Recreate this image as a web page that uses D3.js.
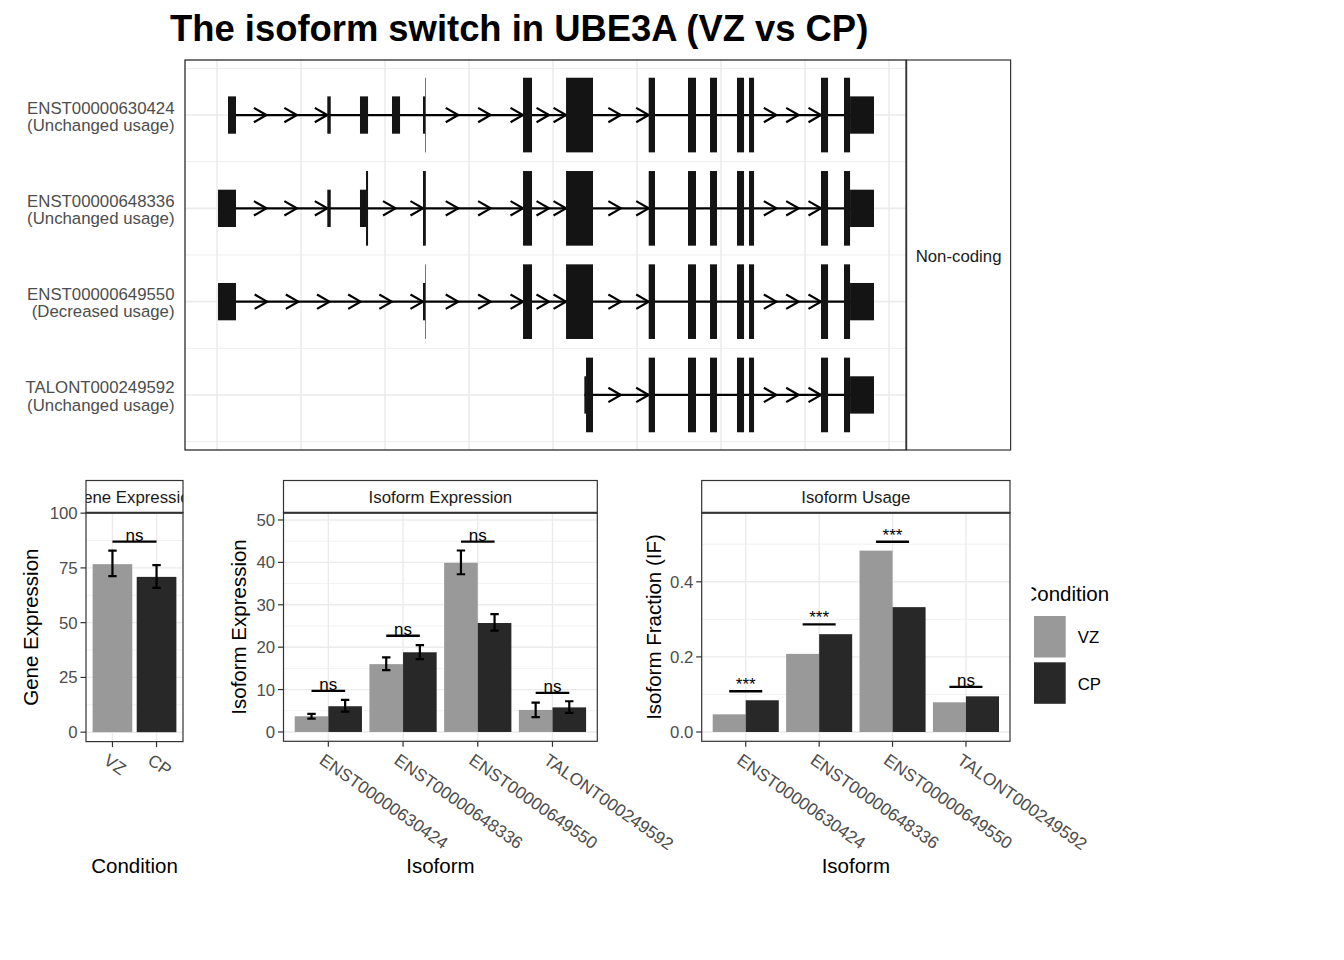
<!DOCTYPE html>
<html>
<head>
<meta charset="utf-8">
<script src="https://cdn.jsdelivr.net/npm/d3@7"></script>
<style>
  body { margin: 0; background: #fff; }
  svg { display: block; font-family: "Liberation Sans", Arial, Helvetica, sans-serif; }
</style>
</head>
<body>
<svg id="chart" width="1344" height="960"></svg>
<script>
// ---- data ----
const chartTitle = 'The isoform switch in UBE3A (VZ vs CP)'
const isoforms = ['ENST00000630424', 'ENST00000648336', 'ENST00000649550', 'TALONT000249592']
const usageLabels = ['(Unchanged usage)', '(Unchanged usage)', '(Decreased usage)', '(Unchanged usage)']
const stripLabel = 'Non-coding'

// exon coordinates (rescaled gene coordinates)
const exons630424 = [[13.1, 22.6], [131.3, 135.4], [170.2, 179.8], [208.3, 217.9], [245.2, 248.6], [364.3, 375], [415.5, 447.6], [513.9, 521.4], [560.7, 570.2], [586.9, 595.2], [619, 627.4], [633.3, 639.3], [719, 727.4], [746.4, 782.1]]
const exons648336 = [[1.2, 22.6], [131.3, 135.4], [170.2, 179.8], [245.2, 248.6], [364.3, 375], [415.5, 447.6], [513.9, 521.4], [560.7, 570.2], [586.9, 595.2], [619, 627.4], [633.3, 639.3], [719, 727.4], [746.4, 782.1]]
const exons649550 = [[1.2, 22.6], [245.2, 248.6], [364.3, 375], [415.5, 447.6], [513.9, 521.4], [560.7, 570.2], [586.9, 595.2], [619, 627.4], [633.3, 639.3], [719, 727.4], [746.4, 782.1]]
const exons249592 = [[437.3, 447.6], [513.9, 521.4], [560.7, 570.2], [586.9, 595.2], [619, 627.4], [633.3, 639.3], [719, 727.4], [746.4, 782.1]]
const isoformExons = [exons630424, exons648336, exons649550, exons249592]
const isoformCds = [[247.9, 753.6], [177.4, 753.6], [247.9, 753.6], [439.3, 753.6]]
// number of direction arrows drawn in each intron
const intronArrows = [
  [3, 0, 0, 0, 3, 2, 2, 0, 0, 0, 0, 3, 0],
  [3, 0, 2, 3, 2, 2, 0, 0, 0, 0, 3, 0],
  [6, 3, 2, 2, 0, 0, 0, 0, 3, 0],
  [2, 0, 0, 0, 0, 3, 0]
]

const conditions = ['VZ', 'CP']
const condColors = ['#999999', '#282828']

const geneExpr = [76.7, 70.9]
const geneExprLo = [71.2, 65.9]
const geneExprHi = [82.9, 76.3]
const geneSig = ['ns']
const geneSigY = [87]

const isoExprVZ = [3.7, 16.0, 39.9, 5.2]
const isoExprVZLo = [3.15, 14.6, 37.2, 3.5]
const isoExprVZHi = [4.25, 17.6, 42.8, 6.9]
const isoExprCP = [6.07, 18.8, 25.7, 5.8]
const isoExprCPLo = [4.8, 17.2, 23.9, 4.5]
const isoExprCPHi = [7.56, 20.5, 27.8, 7.25]
const exprSig = ['ns', 'ns', 'ns', 'ns']
const exprSigY = [9.7, 22.7, 44.9, 9.2]

const usageVZ = [0.047, 0.208, 0.483, 0.079]
const usageCP = [0.0845, 0.2605, 0.3325, 0.095]
const usageSig = ['***', '***', '***', 'ns']
const usageSigY = [0.1085, 0.2864, 0.5067, 0.12]

// ---- drawing ----
const svg = d3.select('#chart')
const grid = '#ebebeb'
const axisGrey = '#4d4d4d'
const border = '#333333'

svg.append('rect').attr('width', 1344).attr('height', 960).attr('fill', '#fff')

svg.append('text')
  .attr('x', 170).attr('y', 40.7)
  .attr('font-size', 36.4).attr('font-weight', 'bold')
  .attr('fill', '#000')
  .text(chartTitle)

// ---------- transcript structure panel ----------
const tp = { l: 185, r: 906, t: 60, b: 450 }
const xGene = d3.scaleLinear().domain([-38.1, 820.2]).range([tp.l, tp.r])
const yRow = d3.scaleLinear().domain([0.41, 4.59]).range([tp.b, tp.t])
const rowOf = i => isoforms.length - i

const topG = svg.append('g')
topG.append('rect')
  .attr('x', tp.l).attr('y', tp.t).attr('width', tp.r - tp.l).attr('height', tp.b - tp.t)
  .attr('fill', '#fff')

topG.selectAll('line.ymin')
  .data([0.5, 1.5, 2.5, 3.5, 4.5])
  .enter().append('line')
  .attr('x1', tp.l).attr('x2', tp.r)
  .attr('y1', d => yRow(d)).attr('y2', d => yRow(d))
  .attr('stroke', grid).attr('stroke-width', 0.9)

topG.selectAll('line.xgrid')
  .data(d3.range(0, 801, 100))
  .enter().append('line')
  .attr('x1', d => xGene(d)).attr('x2', d => xGene(d))
  .attr('y1', tp.t).attr('y2', tp.b)
  .attr('stroke', grid).attr('stroke-width', 1.5)

topG.selectAll('line.ymaj')
  .data([1, 2, 3, 4])
  .enter().append('line')
  .attr('x1', tp.l).attr('x2', tp.r)
  .attr('y1', d => yRow(d)).attr('y2', d => yRow(d))
  .attr('stroke', grid).attr('stroke-width', 1.6)

isoforms.forEach((iso, i) => {
  const row = rowOf(i)
  const y = yRow(row)
  const ex = isoformExons[i]
  const cds = isoformCds[i]
  const arrows = intronArrows[i]

  topG.append('line')
    .attr('x1', xGene(ex[0][0])).attr('x2', xGene(ex[ex.length - 1][1]))
    .attr('y1', y).attr('y2', y)
    .attr('stroke', '#000').attr('stroke-width', 2.2)

  for (let j = 0; j < ex.length - 1; j++) {
    const a = ex[j][1], b = ex[j + 1][0], n = arrows[j]
    for (let k = 1; k <= n; k++) {
      const tx = xGene(a + (b - a) * k / n)
      topG.append('path')
        .attr('d', `M${tx - 12.5},${y - 7.2}L${tx},${y}L${tx - 12.5},${y + 7.2}`)
        .attr('fill', 'none').attr('stroke', '#000').attr('stroke-width', 2.2)
    }
  }

  ex.forEach(([s, e]) => {
    const pieces = []
    if (s < cds[0]) pieces.push([s, Math.min(e, cds[0]), 0.2])
    if (e > cds[0] && s < cds[1]) pieces.push([Math.max(s, cds[0]), Math.min(e, cds[1]), 0.4])
    if (e > cds[1]) pieces.push([Math.max(s, cds[1]), e, 0.2])
    pieces.forEach(([p0, p1, h]) => {
      topG.append('rect')
        .attr('x', xGene(p0)).attr('width', xGene(p1) - xGene(p0))
        .attr('y', yRow(row + h)).attr('height', yRow(row - h) - yRow(row + h))
        .attr('fill', '#141414')
    })
  })

  const lab = topG.append('text')
    .attr('text-anchor', 'end').attr('font-size', 16.8).attr('fill', axisGrey)
  lab.append('tspan').attr('x', 174.5).attr('y', y - 1.5).text(iso)
  lab.append('tspan').attr('x', 174.5).attr('y', y + 15.8).text(usageLabels[i])
})

topG.append('rect')
  .attr('x', tp.l).attr('y', tp.t).attr('width', tp.r - tp.l).attr('height', tp.b - tp.t)
  .attr('fill', 'none').attr('stroke', '#1a1a1a').attr('stroke-width', 1.2)

topG.append('rect')
  .attr('x', tp.r + 0.6).attr('y', tp.t).attr('width', 104).attr('height', tp.b - tp.t)
  .attr('fill', '#fff').attr('stroke', border).attr('stroke-width', 1.2)
topG.append('text')
  .attr('x', tp.r + 52.6).attr('y', (tp.t + tp.b) / 2 + 6.5)
  .attr('text-anchor', 'middle').attr('font-size', 16.8).attr('fill', '#1a1a1a')
  .text(stripLabel)

// ---------- bar panels ----------
function barPanel(opt) {
  const g = svg.append('g')
  const x = d3.scalePoint().domain(opt.cats).range([opt.l, opt.r]).padding(0.6)
  const y = d3.scaleLinear().domain(opt.yDomain).range([opt.b, opt.sb])
  const step = x.step()

  g.append('rect')
    .attr('x', opt.l).attr('y', opt.sb).attr('width', opt.r - opt.l).attr('height', opt.b - opt.sb)
    .attr('fill', '#fff')

  g.selectAll('line.minor').data(opt.yMinor).enter().append('line')
    .attr('x1', opt.l).attr('x2', opt.r)
    .attr('y1', d => y(d)).attr('y2', d => y(d))
    .attr('stroke', grid).attr('stroke-width', 0.7)
  g.selectAll('line.hmaj').data(opt.yTicks).enter().append('line')
    .attr('x1', opt.l).attr('x2', opt.r)
    .attr('y1', d => y(d)).attr('y2', d => y(d))
    .attr('stroke', grid).attr('stroke-width', 1.4)
  g.selectAll('line.vmaj').data(opt.cats).enter().append('line')
    .attr('x1', d => x(d)).attr('x2', d => x(d))
    .attr('y1', opt.sb).attr('y2', opt.b)
    .attr('stroke', grid).attr('stroke-width', 1.4)

  // bars
  g.selectAll('rect.bar').data(opt.bars).enter().append('rect')
    .attr('x', d => x(d.cat) + d.x0 * step)
    .attr('width', d => (d.x1 - d.x0) * step)
    .attr('y', d => y(d.v))
    .attr('height', d => y(0) - y(d.v))
    .attr('fill', d => d.fill)

  // error bars
  opt.bars.filter(d => d.lo != null).forEach(d => {
    const cx = x(d.cat) + (d.x0 + d.x1) / 2 * step
    g.append('path')
      .attr('d', `M${cx - 4.2},${y(d.hi)}H${cx + 4.2}M${cx},${y(d.hi)}V${y(d.lo)}M${cx - 4.2},${y(d.lo)}H${cx + 4.2}`)
      .attr('fill', 'none').attr('stroke', '#000').attr('stroke-width', 2.2)
  })

  // significance
  opt.sig.forEach(s => {
    const x1 = x(s.cat) + s.a * step
    const x2 = x(s.cat) + s.b * step
    g.append('line')
      .attr('x1', x1).attr('x2', x2).attr('y1', y(s.y)).attr('y2', y(s.y))
      .attr('stroke', '#000').attr('stroke-width', 2.3)
    g.append('text')
      .attr('x', (x1 + x2) / 2).attr('y', y(s.y) - 1)
      .attr('text-anchor', 'middle').attr('font-size', 17).attr('fill', '#000')
      .text(s.label)
  })

  g.append('rect')
    .attr('x', opt.l).attr('y', opt.sb).attr('width', opt.r - opt.l).attr('height', opt.b - opt.sb)
    .attr('fill', 'none').attr('stroke', border).attr('stroke-width', 1.2)

  // strip
  const clipId = 'clip-' + opt.id
  svg.append('clipPath').attr('id', clipId)
    .append('rect').attr('x', opt.l).attr('y', opt.st).attr('width', opt.r - opt.l).attr('height', opt.sb - opt.st)
  g.append('rect')
    .attr('x', opt.l).attr('y', opt.st).attr('width', opt.r - opt.l).attr('height', opt.sb - opt.st)
    .attr('fill', '#fff').attr('stroke', border).attr('stroke-width', 1.2)
  g.append('text')
    .attr('clip-path', `url(#${clipId})`)
    .attr('x', (opt.l + opt.r) / 2).attr('y', (opt.st + opt.sb) / 2 + 6)
    .attr('text-anchor', 'middle').attr('font-size', 16.8).attr('fill', '#1a1a1a')
    .text(opt.strip)
  g.append('line')
    .attr('x1', opt.l).attr('x2', opt.r).attr('y1', opt.sb).attr('y2', opt.sb)
    .attr('stroke', border).attr('stroke-width', 2)

  // y axis
  opt.yTicks.forEach(t => {
    g.append('line')
      .attr('x1', opt.l - 5.5).attr('x2', opt.l).attr('y1', y(t)).attr('y2', y(t))
      .attr('stroke', border).attr('stroke-width', 1.2)
    g.append('text')
      .attr('x', opt.l - 8.3).attr('y', y(t)).attr('dy', '0.36em')
      .attr('text-anchor', 'end').attr('font-size', 16.8).attr('fill', axisGrey)
      .text(opt.yFormat(t))
  })

  // x axis
  opt.cats.forEach(c => {
    g.append('line')
      .attr('x1', x(c)).attr('x2', x(c)).attr('y1', opt.b).attr('y2', opt.b + 5.5)
      .attr('stroke', border).attr('stroke-width', 1.2)
    g.append('text')
      .attr('transform', `translate(${x(c) - 3},${opt.b + 11.5}) rotate(35)`)
      .attr('y', 12.2)
      .attr('font-size', 17.3).attr('fill', axisGrey)
      .text(c)
  })

  g.append('text')
    .attr('x', (opt.l + opt.r) / 2).attr('y', 873)
    .attr('text-anchor', 'middle').attr('font-size', 20.5).attr('fill', '#000')
    .text(opt.xTitle)
  g.append('text')
    .attr('transform', `translate(${opt.yTitleX},${(opt.sb + opt.b) / 2}) rotate(-90)`)
    .attr('text-anchor', 'middle').attr('font-size', 20.5).attr('fill', '#000')
    .text(opt.yTitle)
}

const dodge = (vz, cp, vzLo, vzHi, cpLo, cpHi) => isoforms.flatMap((c, k) => [
  { cat: c, x0: -0.45, x1: 0, v: vz[k], lo: vzLo ? vzLo[k] : null, hi: vzHi ? vzHi[k] : null, fill: condColors[0] },
  { cat: c, x0: 0, x1: 0.45, v: cp[k], lo: cpLo ? cpLo[k] : null, hi: cpHi ? cpHi[k] : null, fill: condColors[1] }
])

barPanel({
  id: 'gene', l: 86, r: 183, st: 480.5, sb: 512.7, b: 741.6,
  cats: conditions, yDomain: [-4.3, 100.2],
  yTicks: [0, 25, 50, 75, 100], yMinor: [12.5, 37.5, 62.5, 87.5], yFormat: d => d,
  bars: conditions.map((c, i) => ({ cat: c, x0: -0.45, x1: 0.45, v: geneExpr[i], lo: geneExprLo[i], hi: geneExprHi[i], fill: condColors[i] })),
  sig: [{ cat: conditions[0], a: 0, b: 1, y: geneSigY[0], label: geneSig[0] }],
  strip: 'Gene Expression', xTitle: 'Condition', yTitle: 'Gene Expression', yTitleX: 38
})

barPanel({
  id: 'iso', l: 283.5, r: 597.3, st: 480.5, sb: 512.7, b: 741.3,
  cats: isoforms, yDomain: [-2.2, 51.72],
  yTicks: [0, 10, 20, 30, 40, 50], yMinor: [5, 15, 25, 35, 45], yFormat: d => d,
  bars: dodge(isoExprVZ, isoExprCP, isoExprVZLo, isoExprVZHi, isoExprCPLo, isoExprCPHi),
  sig: isoforms.map((c, k) => ({ cat: c, a: -0.225, b: 0.225, y: exprSigY[k], label: exprSig[k] })),
  strip: 'Isoform Expression', xTitle: 'Isoform', yTitle: 'Isoform Expression', yTitleX: 245.7
})

barPanel({
  id: 'usage', l: 701.7, r: 1010, st: 480.5, sb: 512.7, b: 741.3,
  cats: isoforms, yDomain: [-0.0248, 0.584],
  yTicks: [0, 0.2, 0.4], yMinor: [0.1, 0.3, 0.5], yFormat: d3.format('.1f'),
  bars: dodge(usageVZ, usageCP),
  sig: isoforms.map((c, k) => ({ cat: c, a: -0.225, b: 0.225, y: usageSigY[k], label: usageSig[k] })),
  strip: 'Isoform Usage', xTitle: 'Isoform', yTitle: 'Isoform Fraction (IF)', yTitleX: 661
})

// ---------- legend ----------
const leg = svg.append('g')
svg.append('clipPath').attr('id', 'clip-legend')
  .append('rect').attr('x', 1031.5).attr('y', 570).attr('width', 200).attr('height', 40)
leg.append('text')
  .attr('clip-path', 'url(#clip-legend)')
  .attr('x', 1022.5).attr('y', 600.5)
  .attr('font-size', 20.5).attr('fill', '#000')
  .text('Condition')
conditions.forEach((c, i) => {
  leg.append('rect')
    .attr('x', 1034).attr('y', 616 + i * 46.3).attr('width', 31.7).attr('height', 41.5)
    .attr('fill', condColors[i])
  leg.append('text')
    .attr('x', 1077.7).attr('y', 643.3 + i * 46.7)
    .attr('font-size', 16.8).attr('fill', '#000')
    .text(c)
})
</script>
</body>
</html>
